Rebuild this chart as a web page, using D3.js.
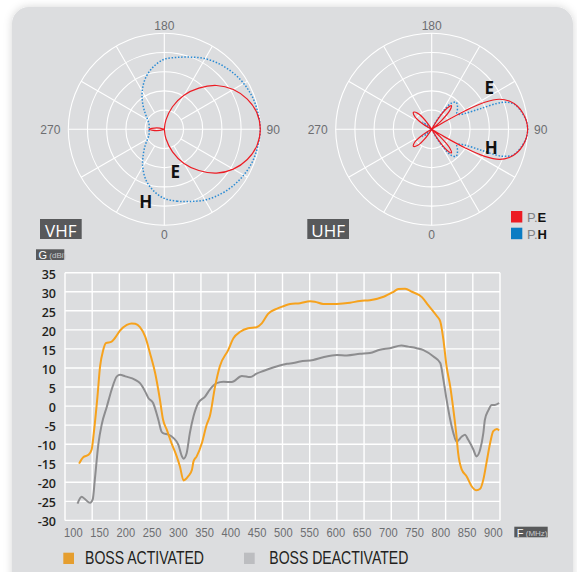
<!DOCTYPE html>
<html><head><meta charset="utf-8">
<script src="https://cdn.jsdelivr.net/npm/d3@7"></script>
<style>
html,body{margin:0;padding:0;background:#fff;}
svg{display:block;}
</style></head>
<body>
<svg id="c" width="577" height="572"></svg>
<script>
// ---------- DATA ----------
const polarAngleLabels = ["180", "270", "90", "0"];
const ringLevels = [0.2, 0.4, 0.6, 0.8, 1.0];
const spokeAngles = [0, 30, 60, 90, 120, 150, 180, 210, 240, 270, 300, 330];

// VHF patterns (angle in degrees: 0 = bottom, 90 = right), radius relative to outer ring
const vhfAngles = [0,10,20,30,40,50,60,70,80,90,100,110,120,130,140,150,160,170,180,190,200,210,220,230,240,250,260,270,280,290,300,310,320,330,340,350];
const vhfE = [0,0.10,0.25,0.41,0.56,0.71,0.83,0.92,0.98,1.0,0.98,0.92,0.83,0.71,0.56,0.41,0.25,0.10,0,0,0,0,0,0,0,0,0.08,0.16,0.08,0,0,0,0,0,0,0];
const vhfH = [0.72,0.76,0.80,0.85,0.89,0.925,0.955,0.978,0.99,1.0,0.99,0.978,0.955,0.925,0.89,0.85,0.80,0.76,0.73,0.66,0.57,0.46,0.35,0.26,0.20,0.17,0.16,0.16,0.16,0.17,0.20,0.26,0.34,0.45,0.56,0.65];

// UHF patterns
const uhfEAngles = [0,28,32,36,40,44,48,52,57,59.5,61,63,66,70,75,80,85,90,95,100,105,110,114,117,119,120.5,123,128,132,136,140,144,148,152,180,211,216,221,227,233,238,243,270,297,302,307,313,319,324,329];
const uhfE = [0,0,0.14,0.27,0.32,0.27,0.14,0,0,0.15,0.40,0.62,0.77,0.86,0.925,0.965,0.99,1.0,0.99,0.965,0.925,0.86,0.77,0.62,0.40,0.15,0,0,0.14,0.27,0.32,0.27,0.14,0,0,0,0.12,0.22,0.26,0.22,0.12,0,0,0,0.12,0.22,0.26,0.22,0.12,0];
const uhfHAngles = [0,26,29,33,37,42,46,52,58,62,65,67,69,72,75,80,85,90,95,100,105,108,111,113,115,118,122,128,134,138,143,147,151,154,180,224,228,232,236,240,270,300,304,308,312,316];
const uhfH = [0,0,0.08,0.24,0.34,0.38,0.37,0.34,0.31,0.33,0.40,0.55,0.78,0.88,0.92,0.96,0.99,1.0,0.99,0.96,0.92,0.88,0.78,0.55,0.40,0.33,0.31,0.34,0.37,0.38,0.34,0.24,0.08,0,0,0,0.08,0.12,0.08,0,0,0,0.08,0.12,0.08,0];

// Gain vs frequency
const freqTicks = [100,150,200,250,300,350,400,450,500,550,600,650,700,750,800,850,900];
const gainTicks = [35,30,25,20,15,10,5,0,-5,-10,-15,-20,-25,-30];
const activatedF = [111,119,129,135,139,146,151,157,162,173,179,189,202,211,218,227,237,246,256,265,271,278,287,297,303,310,319,326,329,335,345,354,360,370,379,395,405,418,433,449,459,471,487,500,513,532,551,560,576,602,627,646,665,691,710,719,732,745,764,776,792,799,805,811,818,824,830,833,840,849,859,868,875,881,887,894,900,907,911];
const activatedG = [-15.1,-13.4,-12.8,-11.4,-7.1,2.5,10.4,14.7,16.5,16.9,17.8,19.8,21.3,21.7,21.6,20.7,18.2,13.9,8.6,1.7,-3.6,-6.2,-9.7,-13.2,-15.8,-19.5,-18.4,-16.7,-14.5,-13.2,-9.7,-4.9,-2.7,5.1,10.4,14.7,17.8,19.5,20.4,20.7,21.7,24.2,25.5,26.2,26.8,27.0,27.5,27.4,26.8,26.8,27.1,27.6,27.8,28.7,30.0,30.7,30.8,30.0,28.6,26.5,23.7,22.2,17.4,10.4,5.1,-1.0,-8.0,-12.3,-16.7,-18.4,-21.1,-22.1,-21.7,-19.3,-14.9,-9.7,-6.6,-6.0,-6.4];
const deactivatedF = [108,116,122,132,137,141,148,154,164,173,183,189,199,218,227,237,243,252,262,268,271,281,291,300,307,310,316,322,329,338,351,360,373,386,402,421,437,449,462,487,507,519,532,557,576,602,621,646,665,684,703,725,738,754,767,786,799,805,811,818,824,830,840,846,852,862,868,875,881,884,891,897,903,911];
const deactivatedG = [-25.6,-23.8,-24.4,-25.4,-24.5,-19.3,-9.7,-4.9,-0.1,4.3,7.8,8.2,7.8,6.9,6.0,3.8,2.1,0.8,-3.6,-6.7,-7.1,-7.5,-8.4,-10.1,-13.2,-13.8,-12.3,-7.1,-2.7,0.8,2.5,4.3,6.0,6.4,6.3,7.9,7.6,8.5,9.2,10.4,11.1,11.3,11.7,12.1,12.8,13.4,13.3,13.7,13.9,14.8,15.2,15.9,15.6,15.2,14.7,13.0,11.3,6.9,1.7,-3.6,-7.1,-9.3,-8.0,-7.5,-8.8,-11.4,-13.2,-11.4,-7.1,-3.6,-1.0,0.3,0.3,0.8];
const legendLabels = ["BOSS ACTIVATED", "BOSS DEACTIVATED"];

// ---------- DRAW ----------
const svg = d3.select("#c");
const defs = svg.append("defs");
const f = defs.append("filter").attr("id","sh").attr("x","-10%").attr("y","-10%").attr("width","120%").attr("height","120%");
f.append("feDropShadow").attr("dx",0).attr("dy",0).attr("stdDeviation",4).attr("flood-color","#000").attr("flood-opacity",0.16);

svg.append("rect").attr("x",12).attr("y",7).attr("width",561).attr("height",620).attr("rx",17)
  .attr("fill","#dcdddf").attr("filter","url(#sh)");

const RED = "#ec1c24", BLUE = "#2a8bd4", ORANGE = "#f6a21d", GREY = "#8d8d8f";
const sansFont = "'Liberation Sans',Arial,sans-serif";

function polar(cx, cy, patterns, letters) {
  const g = svg.append("g").attr("transform", `translate(${cx},${cy})`);
  const r = d3.scaleLinear().domain([0, 1]).range([0, 96]);
  g.selectAll("circle.ring").data(ringLevels).join("circle")
    .attr("r", d => r(d)).attr("fill", "none").attr("stroke", "#fff").attr("stroke-width", 1.1);
  g.selectAll("line.spoke").data(spokeAngles).join("line")
    .attr("x1", d => (d % 90 === 0 ? 0 : r(0.2)) * Math.sin(d * Math.PI / 180))
    .attr("y1", d => (d % 90 === 0 ? 0 : r(0.2)) * Math.cos(d * Math.PI / 180))
    .attr("x2", d => r(1) * Math.sin(d * Math.PI / 180))
    .attr("y2", d => r(1) * Math.cos(d * Math.PI / 180))
    .attr("stroke", "#fff").attr("stroke-width", 1.1);
  const lblPos = [[0,-103.5],[-114,0.5],[109,0.5],[0,105.5]];
  g.selectAll("text.al").data(polarAngleLabels).join("text")
    .attr("x", (d,i) => lblPos[i][0]).attr("y", (d,i) => lblPos[i][1])
    .attr("text-anchor", "middle").attr("dominant-baseline", "central")
    .attr("font-family", sansFont).attr("font-size", 13.5).attr("fill", "#6d6e71")
    .attr("textLength", d => d.length * 6.7).attr("lengthAdjust", "spacingAndGlyphs")
    .text(d => d);
  patterns.forEach(p => {
    const line = d3.lineRadial()
      .angle(d => Math.PI - d[0] * Math.PI / 180)
      .radius(d => r(d[1]))
      .curve(d3.curveCatmullRomClosed.alpha(0.5));
    g.append("path").attr("d", line(d3.zip(p.a, p.v)))
      .attr("fill", "none").attr("stroke", p.c).attr("stroke-width", p.w)
      .attr("stroke-dasharray", p.dash || null);
  });
  letters.forEach(l => {
    g.append("text").attr("x", l[1]).attr("y", l[2]).attr("text-anchor","middle").attr("dominant-baseline","central")
      .attr("font-family","'Open Sans',sans-serif").attr("font-weight",700).attr("font-size",17).attr("fill","#111").text(l[0]);
  });
}

polar(164.3, 129.3, [
  {a: vhfAngles, v: vhfH, c: BLUE, w: 1.5, dash: "1.5,1.7"},
  {a: vhfAngles, v: vhfE, c: RED, w: 1.2}
], [["E", 11, 42], ["H", -18.5, 72.5]]);
polar(431.7, 129.3, [
  {a: uhfHAngles, v: uhfH, c: BLUE, w: 1.5, dash: "1.5,1.7"},
  {a: uhfEAngles, v: uhfE, c: RED, w: 1.2}
], [["E", 57.5, -42], ["H", 59.5, 18]]);

// band labels
function box(x, y, w, h, txt, fs) {
  svg.append("rect").attr("x", x).attr("y", y).attr("width", w).attr("height", h).attr("fill", "#58595b");
  svg.append("text").attr("x", x + w / 2).attr("y", y + h / 2 + 1).attr("text-anchor","middle").attr("dominant-baseline","central")
    .attr("font-family","'Open Sans',sans-serif").attr("font-size", fs).attr("fill","#fff").text(txt);
}
box(40, 219, 41.7, 20, "VHF", 17);
box(307.3, 219, 41.7, 20, "UHF", 17);

// P.E / P.H legend
[["E", RED, 211], ["H", "#0a7cc3", 227.7]].forEach(d => {
  svg.append("rect").attr("x", 511).attr("y", d[2]).attr("width", 11.3).attr("height", 11.5).attr("fill", d[1]);
  const t = svg.append("text").attr("x", 527).attr("y", d[2] + 6).attr("dominant-baseline","central")
    .attr("font-family", sansFont).attr("font-size", 13);
  t.append("tspan").attr("fill","#808285").text("P.");
  t.append("tspan").attr("fill","#111").attr("font-weight",700).text(d[0]);
});

// ---------- Gain chart ----------
const x = d3.scaleLinear().domain([100, 900]).range([73.3, 493.3]);
const y = d3.scaleLinear().domain([-30, 35]).range([520.4, 272.7]);
const gridX = d3.scaleLinear().domain([0, 16]).range([65, 500]);
const gg = svg.append("g");
gg.selectAll("line.hg").data(gainTicks).join("line")
  .attr("x1", 65).attr("x2", 500).attr("y1", d => y(d)).attr("y2", d => y(d))
  .attr("stroke", "#fff").attr("stroke-width", 1.4);
gg.selectAll("line.vg").data(d3.range(17)).join("line")
  .attr("x1", d => gridX(d)).attr("x2", d => gridX(d)).attr("y1", y(35)).attr("y2", y(-30))
  .attr("stroke", "#fff").attr("stroke-width", 1.4);

gg.selectAll("text.yt").data(gainTicks).join("text")
  .attr("x", 56).attr("y", d => y(d) + 1.5).attr("text-anchor","end").attr("dominant-baseline","central")
  .attr("font-family", "'Open Sans',sans-serif").attr("font-weight", 600).attr("font-size", 12.5).attr("fill","#231f20")
  .text(d => d);
gg.selectAll("text.xt").data(freqTicks).join("text")
  .attr("x", d => x(d)).attr("y", 532.5).attr("text-anchor","middle").attr("dominant-baseline","central")
  .attr("font-family", sansFont).attr("font-size", 13.5).attr("fill","#6d6e71")
  .attr("textLength", 18.5).attr("lengthAdjust", "spacingAndGlyphs")
  .text(d => d);

const gl = d3.line().x(d => x(d[0])).y(d => y(d[1])).curve(d3.curveMonotoneX);
gg.append("path").attr("d", gl(d3.zip(deactivatedF, deactivatedG))).attr("fill","none").attr("stroke", GREY).attr("stroke-width", 2);
gg.append("path").attr("d", gl(d3.zip(activatedF, activatedG))).attr("fill","none").attr("stroke", ORANGE).attr("stroke-width", 2);

// axis unit boxes
function unitBox(x0, y0, w, h, main, unit) {
  svg.append("rect").attr("x", x0).attr("y", y0).attr("width", w).attr("height", h).attr("fill", "#58595b");
  const t = svg.append("text").attr("x", x0 + 2.5).attr("y", y0 + h / 2 + 0.5).attr("dominant-baseline","central")
    .attr("font-family", sansFont).attr("fill","#fff");
  t.append("tspan").attr("font-size", 11).text(main);
  t.append("tspan").attr("font-size", 8).attr("fill","#c9cacc").text(" " + unit);
}
unitBox(36, 249.3, 28.3, 10.7, "G", "(dBi)");
unitBox(514.3, 526.7, 33.4, 10.6, "F", "(MHz)");

// legend
const lg = svg.append("g");
[[63.3, "#e59e2f", 85, 119], [244, "#bcbdc0", 269.3, 139]].forEach((d, i) => {
  lg.append("rect").attr("x", d[0]).attr("y", 552.7).attr("width", 10.7).attr("height", 11.3).attr("fill", d[1]);
  lg.append("text").attr("x", d[2]).attr("y", 558).attr("dominant-baseline","central")
    .attr("font-family", sansFont).attr("font-size", 17.5).attr("fill","#231f20")
    .attr("textLength", d[3]).attr("lengthAdjust", "spacingAndGlyphs")
    .text(legendLabels[i]);
});
</script>
</body></html>
